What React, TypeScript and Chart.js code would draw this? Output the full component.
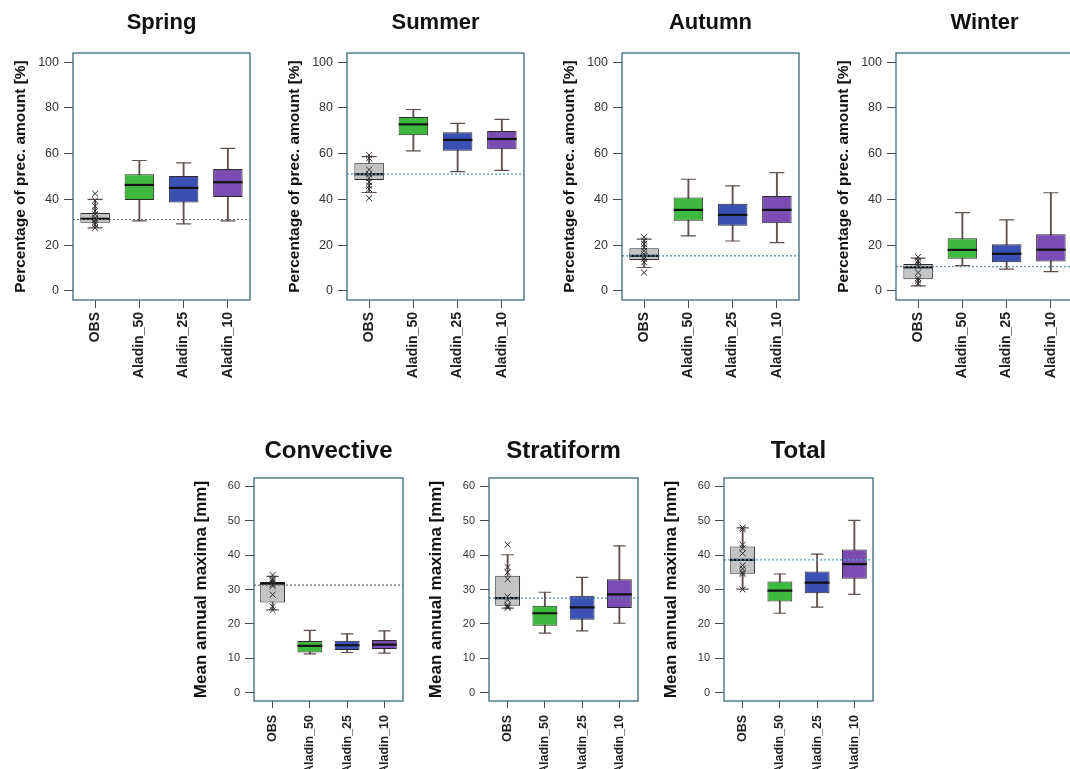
import React, { useEffect, useRef } from "react";
import { Chart, registerables } from "chart.js";

Chart.register(...registerables);
Chart.defaults.font.family = "'Liberation Sans', Arial, Helvetica, sans-serif";

// ---------------- DATA ----------------
const categories = ["OBS", "Aladin_50", "Aladin_25", "Aladin_10"];
const boxColors = ["#c4c4c4", "#3dba3d", "#3a50b4", "#7b4cb4"];

// [lower whisker, Q1, median, Q3, upper whisker] per category
const springStats = [
  [27.5, 29.8, 31.5, 34, 40],
  [30.6, 39.7, 46.3, 51, 57],
  [29.3, 38.6, 45, 50.2, 56],
  [30.6, 41, 47.5, 53.3, 62.3],
];
const springObs = [42.5, 39.5, 37, 35, 33.5, 32, 31, 30, 29, 27.5];
const springRef = 31.2;

const summerStats = [
  [43, 48.5, 51, 56, 58.7],
  [61.2, 68, 72.8, 76, 79.3],
  [52.1, 61.3, 66, 69.3, 73.2],
  [52.7, 61.9, 66.4, 69.9, 75],
];
const summerObs = [59.4, 58, 53, 51, 49.5, 47.5, 46, 44.5, 40.5];
const summerRef = 51;

const autumnStats = [
  [10.2, 13.5, 15.3, 18.6, 22.6],
  [24, 30.6, 35.4, 40.8, 48.8],
  [21.8, 28.5, 33.2, 38.1, 45.9],
  [21.1, 29.6, 35.4, 41.5, 51.7],
];
const autumnObs = [23.5, 22, 20.5, 19, 17.5, 16, 15, 14, 12.5, 8];
const autumnRef = 15.3;

const winterStats = [
  [2.2, 5.1, 10.3, 11.7, 14.3],
  [11, 14, 17.9, 23, 34.2],
  [9.5, 12.5, 16.2, 20.4, 31],
  [8.4, 12.8, 18, 24.8, 42.9],
];
const winterObs = [14.8, 13, 12, 11, 8, 5.5, 4.5, 3.2];
const winterRef = 10.6;

const convectiveStats = [
  [24.1, 26.2, 31.7, 32.2, 33.8],
  [11.3, 11.7, 13.6, 15, 18.1],
  [11.7, 12.4, 13.8, 15.1, 17.1],
  [11.5, 12.7, 14, 15.3, 18],
];
const convectiveObs = [34.2, 33, 32.5, 32, 31.5, 31, 28.5, 25, 24];
const convectiveRef = 31.3;

const stratiformStats = [
  [24.6, 25.3, 27.5, 34, 40.1],
  [17.3, 19.5, 23.1, 25.3, 29.2],
  [18, 21.2, 24.8, 28.2, 33.5],
  [20.2, 24.6, 28.6, 33, 42.7],
];
const stratiformObs = [43, 36.5, 35, 33, 28, 27, 25.5, 25, 24.7];
const stratiformRef = 27.5;

const totalStats = [
  [30.1, 34.6, 38.6, 42.5, 47.9],
  [23.1, 26.5, 29.7, 32.3, 34.5],
  [24.9, 28.9, 32, 35.2, 40.3],
  [28.6, 33.1, 37.4, 41.6, 50.1],
];
const totalObs = [48, 47.5, 43, 42, 40.5, 37, 36, 35, 34.5, 30];
const totalRef = 38.6;

const topYTitle = "Percentage of prec. amount [%]";
const bottomYTitle = "Mean annual maxima [mm]";

// ---------------- LAYOUT ----------------
const TOP_ROW = {
  top: 0, height: 390, leftMargin: 73, plotW: 177,
  titleSize: 22, titlePadTop: 9.8, titlePadBottom: 16.8,
  yTitleSize: 15.5, yTitlePad: 11.5, yTickSize: 12.5,
  xTickSize: 14, xTickLen: 8, xTickPad: 4, yTickLen: 9, yTickPad: 5,
  xAxisH: 90, yMin: -4, yMax: 104, step: 20, capR: 7.5, crossR: 4.2, medR: 14.7,
};
const BOTTOM_ROW = {
  top: 430, height: 339, leftMargin: 64, plotW: 149,
  titleSize: 24, titlePadTop: 6.6, titlePadBottom: 12.6,
  yTitleSize: 17, yTitlePad: 1.5, yTickSize: 11,
  xTickSize: 12.5, xTickLen: 7, xTickPad: 7, yTickLen: 9, yTickPad: 5,
  xAxisH: 68, yMin: -2.4, yMax: 62.4, step: 10, capR: 6.2, crossR: 4.2, medR: 12.4,
};

const panels = [
  { title: "Spring", yTitle: topYTitle, stats: springStats, obs: springObs, refV: springRef, refColor: "#5d6b78", row: TOP_ROW, left: 0 },
  { title: "Summer", yTitle: topYTitle, stats: summerStats, obs: summerObs, refV: summerRef, refColor: "#4d94c2", row: TOP_ROW, left: 274 },
  { title: "Autumn", yTitle: topYTitle, stats: autumnStats, obs: autumnObs, refV: autumnRef, refColor: "#3f80aa", row: TOP_ROW, left: 549 },
  { title: "Winter", yTitle: topYTitle, stats: winterStats, obs: winterObs, refV: winterRef, refColor: "#6a8ea4", row: TOP_ROW, left: 823 },
  { title: "Convective", yTitle: bottomYTitle, stats: convectiveStats, obs: convectiveObs, refV: convectiveRef, refColor: "#5d6b78", row: BOTTOM_ROW, left: 190 },
  { title: "Stratiform", yTitle: bottomYTitle, stats: stratiformStats, obs: stratiformObs, refV: stratiformRef, refColor: "#4a8ab2", row: BOTTOM_ROW, left: 425 },
  { title: "Total", yTitle: bottomYTitle, stats: totalStats, obs: totalObs, refV: totalRef, refColor: "#4aa2c8", row: BOTTOM_ROW, left: 660 },
];

const FRAME_COLOR = "#3f6878";
const TICK_COLOR = "#4a4a4a";
const WHISKER_COLOR = "#5e514c";
const BOX_BORDER = "#2e2a2a";

const framePlugin = {
  id: "frame",
  afterDraw(chart: any) {
    const { ctx, chartArea } = chart;
    const { left, top, right, bottom } = chartArea;
    ctx.save();
    ctx.strokeStyle = FRAME_COLOR;
    ctx.lineWidth = 1.3;
    ctx.strokeRect(left, top, right - left, bottom - top);
    ctx.restore();
  },
};

function BoxPanel({ p }: { p: any }) {
  const ref = useRef<HTMLCanvasElement>(null);
  const r = p.row;
  const width = r.leftMargin * 2 + r.plotW;

  useEffect(() => {
    const canvas = ref.current!;
    const stats: number[][] = p.stats;
    const whiskers = stats.map((s) => [s[0], s[4]]);
    const boxes = stats.map((s) => [s[1], s[3]]);
    const medians = stats.map((s, i) => ({ x: categories[i], y: s[2] }));
    const caps: any[] = [];
    stats.forEach((s, i) => {
      caps.push({ x: categories[i], y: s[0] });
      caps.push({ x: categories[i], y: s[4] });
    });
    const obsPts = p.obs.map((v: number) => ({ x: categories[0], y: v }));

    const chart = new Chart(canvas, {
      type: "bar",
      data: {
        labels: categories,
        datasets: [
          {
            type: "line",
            xAxisID: "xr",
            data: [{ x: 0.5, y: p.refV }, { x: 4.5, y: p.refV }],
            borderColor: p.refColor,
            borderDash: [2, 2],
            borderWidth: 1.2,
            pointRadius: 0,
            fill: false,
            order: 0,
          } as any,
          {
            type: "line",
            data: obsPts,
            showLine: false,
            pointStyle: "crossRot",
            pointRadius: r.crossR,
            pointBorderColor: "#2a2a2a",
            pointBorderWidth: 1,
            order: 1,
          } as any,
          {
            type: "line",
            data: medians,
            showLine: false,
            pointStyle: "line",
            pointRadius: r.medR,
            pointBorderColor: "#111111",
            pointBorderWidth: 2.2,
            order: 2,
          } as any,
          {
            type: "bar",
            data: boxes,
            backgroundColor: boxColors,
            borderColor: BOX_BORDER,
            borderWidth: 1,
            borderSkipped: false,
            grouped: false,
            barPercentage: 0.667,
            categoryPercentage: 1,
            order: 3,
          } as any,
          {
            type: "line",
            data: caps,
            showLine: false,
            pointStyle: "line",
            pointRadius: r.capR,
            pointBorderColor: WHISKER_COLOR,
            pointBorderWidth: 1.2,
            order: 4,
          } as any,
          {
            type: "bar",
            data: whiskers,
            backgroundColor: WHISKER_COLOR,
            borderWidth: 0,
            grouped: false,
            barThickness: 1.2,
            order: 5,
          } as any,
        ],
      },
      options: {
        responsive: false,
        animation: false,
        events: [],
        layout: { padding: 0 },
        plugins: {
          legend: { display: false },
          tooltip: { enabled: false },
          title: {
            display: true,
            text: p.title,
            color: "#111111",
            font: { size: r.titleSize, weight: "bold" },
            padding: { top: r.titlePadTop, bottom: r.titlePadBottom },
          },
        },
        scales: {
          x: {
            type: "category",
            offset: true,
            grid: {
              offset: false,
              drawOnChartArea: false,
              drawTicks: true,
              tickLength: r.xTickLen,
              color: TICK_COLOR,
            },
            border: { display: false },
            ticks: {
              autoSkip: false,
              maxRotation: 90,
              minRotation: 90,
              padding: r.xTickPad,
              color: "#1e1e1e",
              font: { size: r.xTickSize, weight: "bold" },
            },
            afterFit: (s: any) => {
              s.height = r.xAxisH;
            },
          },
          xr: {
            type: "linear",
            display: false,
            offset: false,
            grid: { offset: false },
            min: 0.5,
            max: 4.5,
          },
          y: {
            type: "linear",
            position: "left",
            min: r.yMin,
            max: r.yMax,
            grid: {
              drawOnChartArea: false,
              drawTicks: true,
              tickLength: r.yTickLen,
              color: TICK_COLOR,
            },
            border: { display: false },
            ticks: {
              stepSize: r.step,
              includeBounds: false,
              padding: r.yTickPad,
              color: "#333333",
              font: { size: r.yTickSize },
            },
            title: {
              display: true,
              text: p.yTitle,
              color: "#111111",
              font: { size: r.yTitleSize, weight: "bold" },
              padding: { top: r.yTitlePad, bottom: 0 },
            },
            afterFit: (s: any) => {
              s.width = r.leftMargin;
            },
          },
          y2: {
            type: "linear",
            position: "right",
            display: true,
            grid: { display: false },
            border: { display: false },
            ticks: { display: false },
            afterFit: (s: any) => {
              s.width = r.leftMargin;
            },
          },
        },
      } as any,
      plugins: [framePlugin],
    });
    return () => chart.destroy();
  }, [p]);

  return (
    <canvas
      ref={ref}
      width={width}
      height={r.height}
      style={{ position: "absolute", left: p.left, top: r.top, width, height: r.height }}
    />
  );
}

export default function App() {
  return (
    <div
      style={{
        position: "absolute",
        left: 0,
        top: 0,
        width: 1070,
        height: 769,
        overflow: "hidden",
        background: "#ffffff",
      }}
    >
      {panels.map((p) => (
        <BoxPanel key={p.title} p={p} />
      ))}
    </div>
  );
}
